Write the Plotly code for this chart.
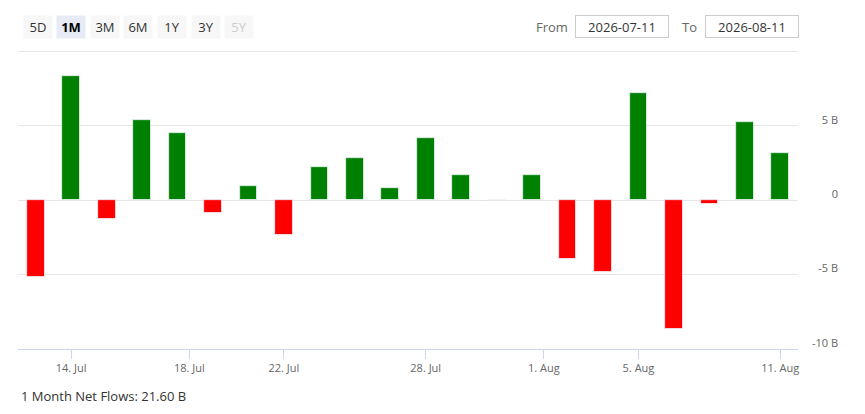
import numpy as np
import pandas as pd
import plotly.graph_objects as go

# ---------------- data ----------------
dates = ["2026-07-13", "2026-07-14", "2026-07-15", "2026-07-16", "2026-07-17",
         "2026-07-20", "2026-07-21", "2026-07-22", "2026-07-23", "2026-07-24",
         "2026-07-27", "2026-07-28", "2026-07-29", "2026-07-30", "2026-07-31",
         "2026-08-03", "2026-08-04", "2026-08-05", "2026-08-06", "2026-08-07",
         "2026-08-10", "2026-08-11"]
net_flows_b = [-5.16, 8.35, -1.29, 5.38, 4.53, -0.87, 0.96, -2.34, 2.23, 2.86,
               0.82, 4.18, 1.67, 0.0, 1.72, -3.97, -4.82, 7.19, -8.68, -0.24,
               5.29, 3.19]
tick_dates = ["2026-07-14", "2026-07-18", "2026-07-22", "2026-07-28",
              "2026-08-01", "2026-08-05", "2026-08-11"]
tick_labels = ["14. Jul", "18. Jul", "22. Jul", "28. Jul", "1. Aug", "5. Aug", "11. Aug"]
grid_values = [10, 5, 0, -5]
y_ticks = [5, 0, -5, -10]
y_tick_labels = ["5 B", "0", "-5 B", "-10 B"]
range_buttons = ["5D", "1M", "3M", "6M", "1Y", "3Y", "5Y"]
selected_button = "1M"
disabled_buttons = ["5Y"]
from_date = "2026-07-11"
to_date = "2026-08-11"
summary_text = "1 Month Net Flows: 21.60 B"

# ---------------- layout constants (page pixels) ----------------
OFF = 8                      # default page body margin
W, H = 865 - OFF, 414 - OFF  # figure size
y_min, y_max = -10, 10.1
plot_l, plot_r, plot_t, plot_b = 18, 798, 49.5, 349   # page px
label_r = 838                # right edge reference for y labels (page px)
FONT = "Open Sans"

ML = plot_l - OFF
MT = plot_t - OFF
MB = (414 - plot_b)
MR = (865 - label_r)
paper_w = W - ML - MR
paper_h = H - MT - MB


def px_x(px):
    return (px - OFF - ML) / paper_w


def px_y(py):
    return 1 - (py - OFF - MT) / paper_h


# ordinal (trading-day) positions
d_ord = pd.to_datetime(dates).map(pd.Timestamp.toordinal).to_numpy(dtype=float)
idx = np.arange(len(dates), dtype=float)
t_ord = pd.to_datetime(tick_dates).map(pd.Timestamp.toordinal).to_numpy(dtype=float)
tick_pos = np.interp(t_ord, d_ord, idx)

colors = ["#008000" if v >= 0 else "#ff0000" for v in net_flows_b]

fig = go.Figure()
fig.add_trace(go.Bar(
    x=idx, y=net_flows_b, width=0.5,
    marker=dict(color=colors, line=dict(color="rgba(255,255,255,0.6)", width=1)),
    hovertemplate="%{y:.2f} B<extra></extra>",
    showlegend=False,
))

fig.update_layout(
    width=W, height=H,
    margin=dict(l=ML, r=MR, t=MT, b=MB, pad=0),
    paper_bgcolor="white", plot_bgcolor="white",
    font=dict(family=FONT, color="#333333", size=11),
    bargap=0,
    xaxis=dict(
        domain=[0, px_x(plot_r)],
        range=[-0.5, len(dates) - 0.5],
        tickmode="array", tickvals=tick_pos, ticktext=tick_labels,
        showgrid=False, zeroline=False,
        showline=True, linecolor="#ccd6eb", linewidth=1,
        ticks="outside", ticklen=9, tickcolor="#ccd6eb", tickwidth=1,
        tickfont=dict(size=11, color="#666666", family=FONT),
        fixedrange=True,
    ),
    yaxis=dict(
        range=[y_min, y_max],
        tickmode="array", tickvals=grid_values,
        showticklabels=False,
        showgrid=True, gridcolor="#e6e6e6", gridwidth=1,
        zeroline=False, showline=False,
        fixedrange=True,
    ),
)

# Right-aligned value labels drawn by the y axis itself, via a matching overlay axis
fig.update_layout(
    yaxis2=dict(
        overlaying="y", matches="y", anchor="free", position=1, side="left",
        tickmode="array", tickvals=y_ticks, ticktext=y_tick_labels,
        showgrid=False, zeroline=False, showline=False, ticks="",
        ticklabelshift=-6,
        tickfont=dict(size=11, color="#666666", family=FONT),
        fixedrange=True,
    ),
)
fig.add_trace(go.Bar(x=idx, y=net_flows_b, width=0.5, yaxis="y2",
                     marker=dict(color="rgba(0,0,0,0)"), hoverinfo="skip",
                     showlegend=False))

annotations = []
# range selector buttons
bx0, bstep, bw, bh, by = 23.5, 33.6, 28, 22, 26
for i, lab in enumerate(range_buttons):
    cx = bx0 + i * bstep + bw / 2
    sel = lab == selected_button
    dis = lab in disabled_buttons
    annotations.append(dict(
        text=("<b>%s</b>" % lab) if sel else lab,
        xref="paper", yref="paper",
        x=px_x(cx), y=px_y(by),
        xanchor="center", yanchor="middle",
        width=bw, height=bh, showarrow=False, borderpad=0,
        bgcolor="#e6ebf5" if sel else "#f7f7f7",
        font=dict(size=13, family=FONT,
                  color="#000000" if sel else ("#cccccc" if dis else "#333333")),
    ))

annotations.append(dict(text="From", xref="paper", yref="paper", x=px_x(552), y=px_y(26),
                        xanchor="center", yanchor="middle", showarrow=False,
                        font=dict(size=13, family=FONT, color="#666666")))
annotations.append(dict(text="To", xref="paper", yref="paper", x=px_x(689), y=px_y(26),
                        xanchor="center", yanchor="middle", showarrow=False,
                        font=dict(size=13, family=FONT, color="#666666")))
for cx, txt in [(622, from_date), (752, to_date)]:
    annotations.append(dict(text=txt, xref="paper", yref="paper", x=px_x(cx), y=px_y(26),
                            xanchor="center", yanchor="middle", showarrow=False,
                            width=92, height=21, borderpad=0,
                            bordercolor="#cccccc", borderwidth=1, bgcolor="white",
                            font=dict(size=13, family=FONT, color="#333333")))

annotations.append(dict(text=summary_text, xref="paper", yref="paper",
                        x=px_x(19), y=px_y(396), xanchor="left", yanchor="middle",
                        showarrow=False,
                        font=dict(size=13, family=FONT, color="#333333")))

fig.update_layout(annotations=annotations)

fig.write_html("out.html")
